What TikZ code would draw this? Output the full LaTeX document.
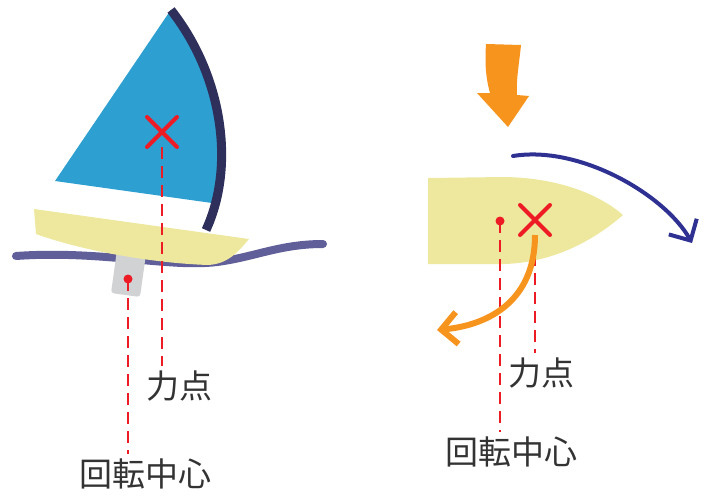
\documentclass[tikz,border=0pt]{standalone}
\usepackage{fontspec}
\usepackage{tikz}
\usetikzlibrary{arrows.meta,shapes.misc}
\newfontfamily\jpfont{Noto Sans CJK JP}
\definecolor{sailblue}{HTML}{2E9FD1}
\definecolor{mastnavy}{HTML}{2E2F5A}
\definecolor{hullyellow}{HTML}{EDE89D}
\definecolor{wavepurple}{HTML}{605F99}
\definecolor{keelgray}{HTML}{D1D2D4}
\definecolor{markred}{HTML}{ED1C24}
\definecolor{pushorange}{HTML}{F7941E}
\definecolor{turnnavy}{HTML}{2E3192}
\definecolor{labelgray}{HTML}{333333}

\begin{document}
\begin{tikzpicture}[x=1pt,y=-1pt,
  every node/.style={font=\jpfont\fontsize{33}{40}\selectfont,text=labelgray,inner sep=5pt},
  cross/.style={cross out,draw=markred,line width=4pt,line cap=round,minimum size=26pt,inner sep=0pt},
  pivot/.style={circle,fill=markred,minimum size=9pt,inner sep=0pt},
  guide/.style={markred,line width=2pt,dash pattern=on 12pt off 7pt},
  barb/.style={-{Straight Barb[length=16pt,width=32pt]}}]
  \useasboundingbox (0,0) rectangle (706,495);
  % side view
  \draw[wavepurple,line width=8pt,line cap=round]
    (16,256) .. controls (100,250) and (170,268) .. (217,262)
    .. controls (255,257) and (280,244) .. (323,244);
  \fill[keelgray,rounded corners=3pt] (117,250) -- (146,254) -- (140,297) -- (111,293) -- cycle;
  \fill[hullyellow] (34,209) -- (249,239) .. controls (238,252) and (228,264) .. (208,265)
    .. controls (150,263) and (80,250) .. (36,234) -- cycle;
  \begin{scope}
    \clip (171,10) .. controls (222,75) and (236,165) .. (206,230) -- (0,230) -- (0,10) -- cycle;
    \fill[sailblue] (166,17) -- (55,181) -- (212,203) -- (245,120) -- (172,8) -- cycle;
  \end{scope}
  \draw[mastnavy,line width=9pt] (171,10) .. controls (222,75) and (236,165) .. (206,230);
  \node[cross] (lcross) at (162,132) {};
  \node[pivot] (lpivot) at (128,279) {};
  \node (lforce) at (179,386) {力点};
  \node (lcenter) at (145,474) {回転中心};
  \draw[guide] (lcross.south) -- (lcross.south |- lforce.north);
  \draw[guide] (lpivot.center) -- (lpivot.center |- lcenter.north);
  % top view
  \fill[pushorange] (486,44) -- (521,45) .. controls (519,65) and (516,80) .. (517,95)
    -- (529,96) -- (508,127) -- (477,93) -- (490,93)
    .. controls (485,75) and (485,60) .. (486,44) -- cycle;
  \fill[hullyellow] (428,178) -- (505,177) .. controls (560,178) and (600,195) .. (623,215)
    .. controls (600,235) and (560,262) .. (505,264) -- (428,264) -- cycle;
  \draw[turnnavy,line width=4pt,line cap=round,barb]
    (513,156) .. controls (580,145) and (665,195) .. (692,243);
  \node[cross] (rcross) at (535,220) {};
  \node[pivot] (rpivot) at (500,221) {};
  \node (rforce) at (541,373) {力点};
  \node (rcenter) at (511,452) {回転中心};
  \draw[guide] (rcross.south) -- (rcross.south |- rforce.north);
  \draw[guide] (rpivot.center) -- (rpivot.center |- rcenter.north);
  \draw[pushorange,line width=6pt,barb]
    (rcross.south) .. controls (535,300) and (490,325) .. (437,330);
\end{tikzpicture}
\end{document}
